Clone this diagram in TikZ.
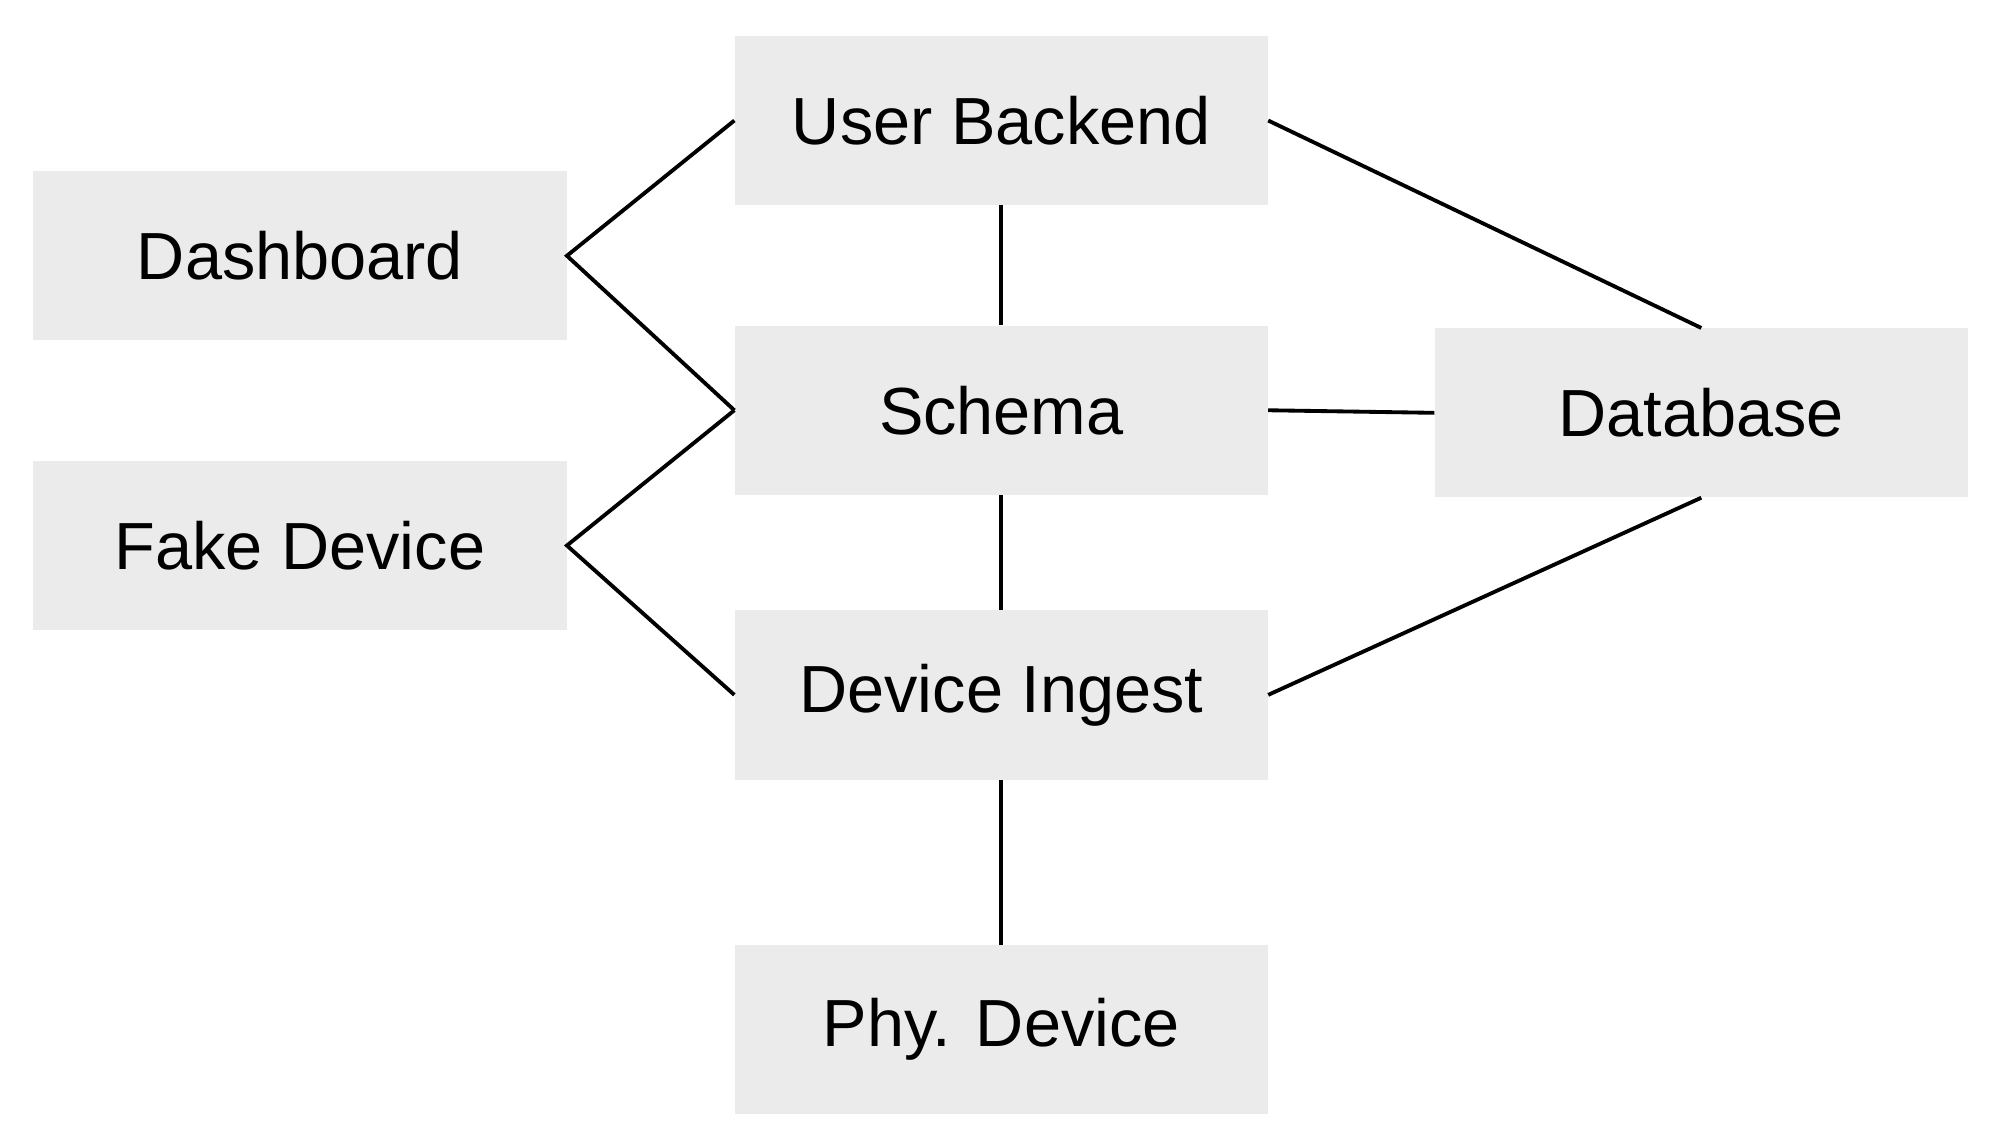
\documentclass[tikz,border=0pt]{standalone}
\usepackage{fontspec}
\setmainfont{Liberation Sans}
\begin{document}
\begin{tikzpicture}[x=1pt,y=-1pt,
  box/.style={fill={rgb,255:red,235;green,235;blue,235},minimum width=416pt,minimum height=132pt,inner sep=0pt,font=\fontsize{52}{60}\selectfont},
  ln/.style={line width=3pt}]
\useasboundingbox (0,0) rectangle (1560,892);
\node[box] (ub) at (781,94) {User Backend};
\node[box] (dash) at (234,199.5) {Dashboard};
\node[box] (sch) at (781,320) {Schema};
\node[box] (db) at (1327,322) {Database};
\node[box] (fake) at (234,425.5) {Fake Device};
\node[box] (di) at (781,542) {Device Ingest};
\node[box] (phy) at (781,803) {Phy. Device};
\draw[ln] (ub.west) -- (dash.east) -- (sch.west);
\draw[ln] (sch.west) -- (fake.east) -- (di.west);
\draw[ln] (ub.south) -- (sch.north);
\draw[ln] (sch.south) -- (di.north);
\draw[ln] (di.south) -- (phy.north);
\draw[ln] (ub.east) -- (db.north);
\draw[ln] (sch.east) -- (db.west);
\draw[ln] (di.east) -- (db.south);
\end{tikzpicture}
\end{document}
